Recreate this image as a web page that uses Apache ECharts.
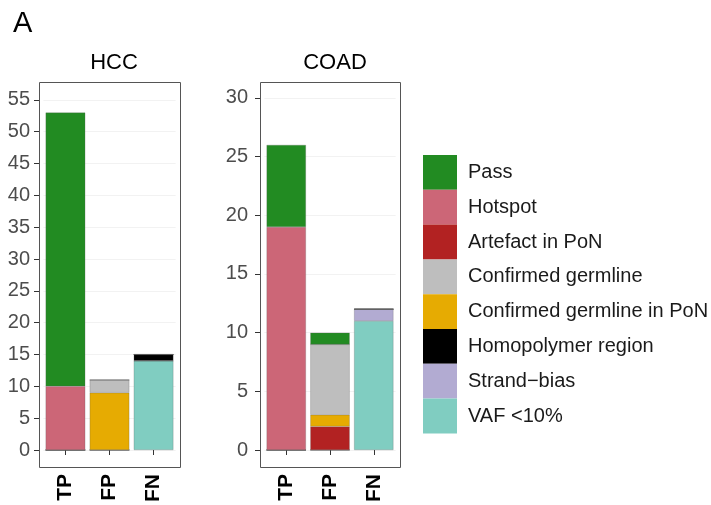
<!DOCTYPE html>
<html>
<head>
<meta charset="utf-8">
<script src="https://cdn.jsdelivr.net/npm/echarts@6/dist/echarts.min.js"></script>
<style>
  html, body { margin: 0; padding: 0; background: #fff; }
  #main { width: 711px; height: 505px; }
</style>
</head>
<body>
<div id="main"></div>
<script>
// categories along x, same in both panels
const categories = ['TP', 'FP', 'FN'];

// legend order (top to bottom)
const legendNames = ['Pass', 'Hotspot', 'Artefact in PoN', 'Confirmed germline',
    'Confirmed germline in PoN', 'Homopolymer region', 'Strand\u2212bias', 'VAF <10%'];

// stacking order, bottom to top
const stackOrder = ['VAF <10%', 'Strand\u2212bias', 'Homopolymer region', 'Artefact in PoN',
    'Confirmed germline in PoN', 'Confirmed germline', 'Hotspot', 'Pass'];

const colors = {
    'Pass': '#228B22',
    'Hotspot': '#CC6677',
    'Artefact in PoN': '#B22222',
    'Confirmed germline': '#BEBEBE',
    'Confirmed germline in PoN': '#E6AB02',
    'Homopolymer region': '#000000',
    'Strand\u2212bias': '#B2ABD2',
    'VAF <10%': '#80CDC1'
};

// values per class for TP, FP, FN
const hccValues = {
    'Pass': [43, 0, 0],
    'Hotspot': [10, 0, 0],
    'Artefact in PoN': [0, 0, 0],
    'Confirmed germline': [0, 2, 0],
    'Confirmed germline in PoN': [0, 9, 0],
    'Homopolymer region': [0, 0, 1],
    'Strand\u2212bias': [0, 0, 0],
    'VAF <10%': [0, 0, 14]
};
const coadValues = {
    'Pass': [7, 1, 0],
    'Hotspot': [19, 0, 0],
    'Artefact in PoN': [0, 2, 0],
    'Confirmed germline': [0, 6, 0],
    'Confirmed germline in PoN': [0, 1, 0],
    'Homopolymer region': [0, 0, 0],
    'Strand\u2212bias': [0, 0, 1],
    'VAF <10%': [0, 0, 11]
};

const hccTicks = [0, 5, 10, 15, 20, 25, 30, 35, 40, 45, 50, 55];
const coadTicks = [0, 5, 10, 15, 20, 25, 30];

const font = 'Liberation Sans, Arial, sans-serif';

// panel frames (ggplot style), bars sit inside with 0.6 unit padding
const panels = [
    { left: 39, width: 141, top: 82, height: 385 },
    { left: 260, width: 140, top: 82, height: 385 }
];
const grids = panels.map(p => {
    const u = p.width / 3.2;
    return { left: p.left + 0.1 * u, width: 3 * u, top: p.top, height: p.height, pad: 0.1 * u };
});

function xAxisFor(gi) {
    return {
        type: 'category', gridIndex: gi, data: categories,
        axisLine: { show: false },
        axisTick: { show: true, alignWithLabel: true, length: 5, lineStyle: { color: '#333' } },
        axisLabel: {
            rotate: 90, margin: 7, interval: 0,
            fontSize: 21, fontWeight: 'bold', color: '#000', fontFamily: font
        }
    };
}
function yAxisFor(gi, min, max, ticks, margin) {
    return {
        type: 'value', gridIndex: gi, min: min, max: max,
        offset: grids[gi].pad,
        axisLine: { show: false },
        axisTick: { show: true, customValues: ticks, length: 5, lineStyle: { color: '#333' } },
        axisLabel: { customValues: ticks, fontSize: 20, color: '#4D4D4D', margin: margin, fontFamily: font },
        splitLine: { show: true, lineStyle: { color: '#F2F2F2', width: 1 } }
    };
}

function seriesFor(gi, values, stack) {
    return stackOrder.map(name => ({
        name: name, type: 'bar', stack: stack,
        xAxisIndex: gi, yAxisIndex: gi,
        barWidth: '90%',
        itemStyle: { color: colors[name], borderColor: 'rgba(90,90,90,0.5)', borderWidth: 0.5 },
        data: values[name]
    }));
}

const chart = echarts.init(document.getElementById('main'));
chart.setOption({
    backgroundColor: '#fff',
    animation: false,
    title: [
        { text: 'A', left: 8, top: 4, textStyle: { fontSize: 29, fontWeight: 'normal', color: '#000', fontFamily: font } },
        { text: 'HCC', left: 109, textAlign: 'center', top: 47, textStyle: { fontSize: 22, fontWeight: 'normal', color: '#000', fontFamily: font } },
        { text: 'COAD', left: 330, textAlign: 'center', top: 47, textStyle: { fontSize: 22, fontWeight: 'normal', color: '#000', fontFamily: font } }
    ],
    graphic: panels.map(p => ({
        type: 'rect', z: 10, silent: true,
        shape: { x: p.left + 0.5, y: p.top + 0.5, width: p.width, height: p.height },
        style: { fill: 'none', stroke: '#555', lineWidth: 1 }
    })),
    grid: grids.map(g => ({ left: g.left, width: g.width, top: g.top, height: g.height })),
    xAxis: [xAxisFor(0), xAxisFor(1)],
    yAxis: [
        yAxisFor(0, -2.67, 57.8, hccTicks, 9),
        yAxisFor(1, -1.45, 31.36, coadTicks, 12)
    ],
    legend: {
        data: legendNames, orient: 'vertical', left: 418, top: 150,
        itemWidth: 34, itemHeight: 34.8, itemGap: 0, icon: 'rect',
        itemStyle: { borderWidth: 0 },
        textStyle: { fontSize: 20, color: '#1a1a1a', fontFamily: font, padding: [0, 0, 0, 6] },
        selectedMode: false
    },
    series: seriesFor(0, hccValues, 'hcc').concat(seriesFor(1, coadValues, 'coad'))
});
</script>
</body>
</html>
